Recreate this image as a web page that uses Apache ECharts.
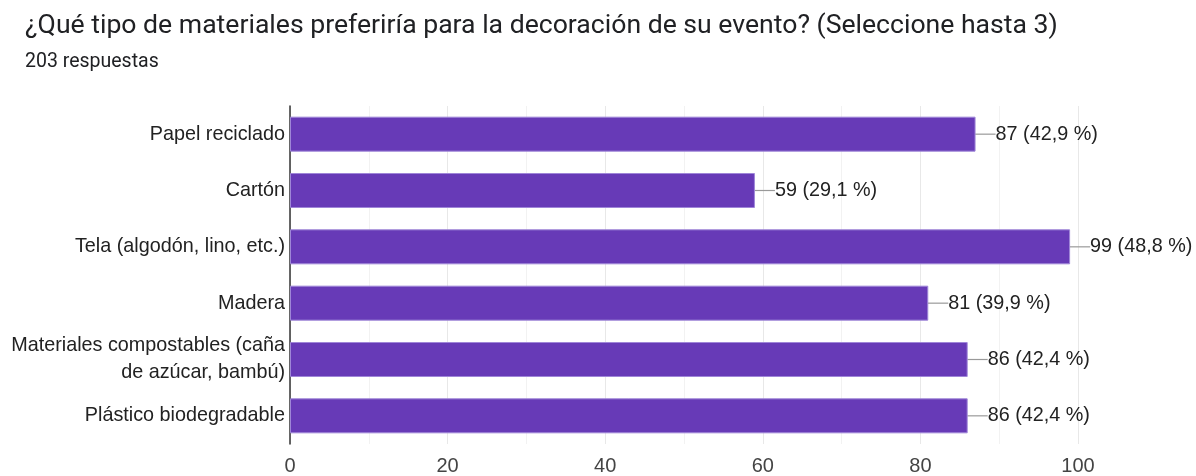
<!DOCTYPE html>
<html>
<head>
<meta charset="utf-8">
<script src="https://cdn.jsdelivr.net/npm/echarts@6/dist/echarts.min.js"></script>
<style>
  html, body { margin: 0; padding: 0; background: #fff; }
  #chart { width: 1196px; height: 476px; }
</style>
</head>
<body>
<div id="chart"></div>
<script>
// Survey question, answer options and response counts
const titleText = '¿Qué tipo de materiales preferiría para la decoración de su evento? (Seleccione hasta 3)';
const subtitleText = '203 respuestas';
const categories = [
  'Papel reciclado',
  'Cartón',
  'Tela (algodón, lino, etc.)',
  'Madera',
  'Materiales compostables (caña\nde azúcar, bambú)',
  'Plástico biodegradable'
];
const counts = [87, 59, 99, 81, 86, 86];
const percents = ['42,9', '29,1', '48,8', '39,9', '42,4', '42,4'];
const xTicks = [0, 20, 40, 60, 80, 100];

const chart = echarts.init(document.getElementById('chart'), null, { renderer: 'canvas' });

chart.setOption({
  animation: false,
  backgroundColor: '#ffffff',
  title: {
    text: titleText,
    subtext: subtitleText,
    left: 20,
    top: 8,
    itemGap: 12,
    textStyle: { fontFamily: 'Roboto', fontSize: 26.6, fontWeight: 'normal', color: '#202124' },
    subtextStyle: { fontFamily: 'Roboto', fontSize: 19.5, color: '#202124' }
  },
  grid: { left: 290, right: 118, top: 106, bottom: 30, containLabel: false },
  xAxis: {
    type: 'value',
    min: xTicks[0],
    max: xTicks[xTicks.length - 1],
    interval: 20,
    axisLine: { show: false },
    axisTick: { show: false },
    axisLabel: {
      fontFamily: 'Liberation Sans',
      fontSize: 20,
      color: '#444',
      margin: 12
    },
    splitLine: { show: true, lineStyle: { color: '#e8e8e8', width: 1 } },
    minorTick: { show: false, splitNumber: 2 },
    minorSplitLine: { show: true, lineStyle: { color: '#f2f2f2', width: 1 } }
  },
  yAxis: {
    type: 'category',
    data: categories,
    inverse: true,
    axisLine: { show: true, lineStyle: { color: '#333', width: 1.5 } },
    axisTick: { show: false },
    splitLine: { show: false },
    axisLabel: {
      fontFamily: 'Liberation Sans',
      fontSize: 19.8,
      color: '#222',
      margin: 5,
      lineHeight: 27,
      align: 'right'
    }
  },
  series: [{
    type: 'bar',
    data: counts,
    barWidth: 35,
    itemStyle: { color: '#673ab7', borderColor: '#9f86d8', borderWidth: 1 },
    label: {
      show: true,
      position: 'right',
      distance: 0,
      fontFamily: 'Liberation Sans',
      fontSize: 19.8,
      color: '#222',
      formatter: (p) => p.value + ' (' + percents[p.dataIndex] + ' %)'
    },
    labelLayout: { dx: 20 },
    labelLine: { show: true, lineStyle: { color: '#999', width: 1.2 } }
  }]
});
</script>
</body>
</html>
